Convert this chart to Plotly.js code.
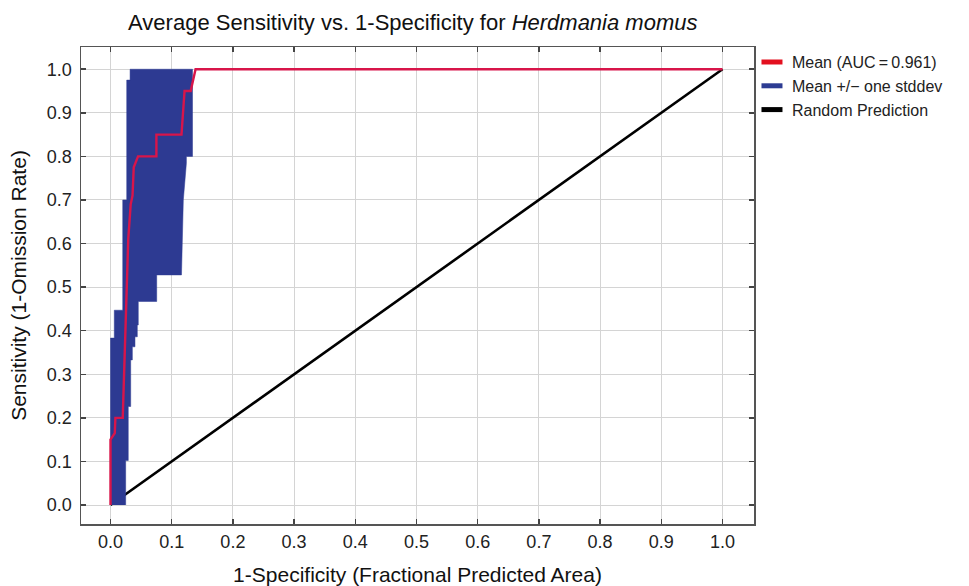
<!DOCTYPE html>
<html>
<head>
<meta charset="utf-8">
<script src="https://cdn.plot.ly/plotly-3.0.1.min.js"></script>
<style>html,body{margin:0;padding:0;background:#fff;}#chart{width:969px;height:586px;}</style>
</head>
<body>
<div id="chart"></div>
<script>
// ---- data ----
const meanX = [0, 0, 0.007, 0.008, 0.020, 0.021, 0.022, 0.025, 0.027, 0.029, 0.033, 0.036, 0.038, 0.045, 0.075, 0.075, 0.116, 0.121, 0.131, 0.139, 1.0];
const meanY = [0, 0.15, 0.165, 0.20, 0.20, 0.25, 0.31, 0.40, 0.52, 0.61, 0.69, 0.71, 0.775, 0.80, 0.80, 0.85, 0.85, 0.95, 0.95, 1.0, 1.0];

// band (mean +/- one stddev): left edge bottom->top, right edge top->bottom
const bandLeftX = [0, 0, 0.0062, 0.0062, 0.020, 0.020, 0.0265, 0.0265, 0.032, 0.032];
const bandLeftY = [0, 0.383, 0.383, 0.447, 0.447, 0.70, 0.70, 0.975, 0.975, 1.0];
const bandRightX = [0.134, 0.134, 0.124, 0.124, 0.119, 0.116, 0.0755, 0.0755, 0.0454, 0.0454, 0.0438, 0.0438, 0.040, 0.040, 0.0357, 0.0357, 0.033, 0.033, 0.029, 0.029, 0.0248, 0.0248];
const bandRightY = [1.0, 0.80, 0.80, 0.784, 0.70, 0.528, 0.528, 0.467, 0.467, 0.413, 0.413, 0.386, 0.386, 0.363, 0.363, 0.333, 0.333, 0.226, 0.226, 0.102, 0.102, 0];

const randomX = [0, 1];
const randomY = [0, 1];

const tickVals = [0, 0.1, 0.2, 0.3, 0.4, 0.5, 0.6, 0.7, 0.8, 0.9, 1.0];
const tickText = ['0.0', '0.1', '0.2', '0.3', '0.4', '0.5', '0.6', '0.7', '0.8', '0.9', '1.0'];

const seriesNames = ['Mean (AUC\u2009=\u20090.961)', 'Mean +/\u2212 one stddev', 'Random Prediction'];
const seriesColors = ['#e3101f', '#2d3c93', '#000000'];

// ---- build ----
const FONT = '"Liberation Sans", Arial, Helvetica, sans-serif';

const traces = [
  {x: randomX, y: randomY, mode: 'lines', line: {color: '#000', width: 2.6}, showlegend: false, hoverinfo: 'skip'},
  {x: bandLeftX.concat(bandRightX), y: bandLeftY.concat(bandRightY), mode: 'lines', fill: 'toself',
   fillcolor: '#2d3a92', line: {color: '#2d3a92', width: 0.5}, showlegend: false, hoverinfo: 'skip'},
  {x: meanX, y: meanY, mode: 'lines', line: {color: '#d8154a', width: 2.4}, showlegend: false, hoverinfo: 'skip'}
];
// legend entries
seriesNames.forEach((n, i) => {
  traces.push({x: [null], y: [null], mode: 'markers', name: n, showlegend: true,
    marker: {symbol: 'line-ew', size: 15, color: seriesColors[i], line: {color: seriesColors[i], width: 5}}});
});

const axisCommon = {
  showline: true, mirror: 'ticks', linecolor: '#555', linewidth: 1.5,
  ticks: 'inside', ticklen: 5, tickwidth: 1.5, tickcolor: '#444',
  showgrid: true, gridcolor: '#d4d4d4', gridwidth: 1, zeroline: false,
  tickvals: tickVals, ticktext: tickText, automargin: false,
  tickfont: {family: FONT, size: 18, color: '#222'}
};

const layout = {
  width: 969, height: 586,
  margin: {l: 81, r: 215, t: 47, b: 62, autoexpand: false},
  paper_bgcolor: '#fff', plot_bgcolor: '#fff',
  font: {family: FONT, color: '#111'},
  title: {text: 'Average Sensitivity vs. 1-Specificity for <i>Herdmania momus</i>',
          font: {family: FONT, size: 22, color: '#111'}, x: 0.426, xref: 'container', xanchor: 'center',
          y: 0.962, yref: 'container', yanchor: 'middle'},
  xaxis: Object.assign({}, axisCommon, {range: [-0.0482, 1.0515], ticklabelstandoff: 1,
          title: {text: '1-Specificity (Fractional Predicted Area)', font: {family: FONT, size: 21, color: '#111'}, standoff: 19}}),
  yaxis: Object.assign({}, axisCommon, {range: [-0.0436, 1.051], ticklabelstandoff: 4,
          title: {text: 'Sensitivity (1-Omission Rate)', font: {family: FONT, size: 21, color: '#111'}, standoff: 14}}),
  showlegend: true,
  legend: {x: 0.997, xanchor: 'left', y: 1.004, yanchor: 'top', bgcolor: 'rgba(0,0,0,0)',
           font: {family: FONT, size: 16, color: '#222'}, itemwidth: 30, tracegroupgap: 0, traceorder: 'normal'}
};

Plotly.newPlot('chart', traces, layout, {displayModeBar: false, staticPlot: true});
</script>
</body>
</html>
